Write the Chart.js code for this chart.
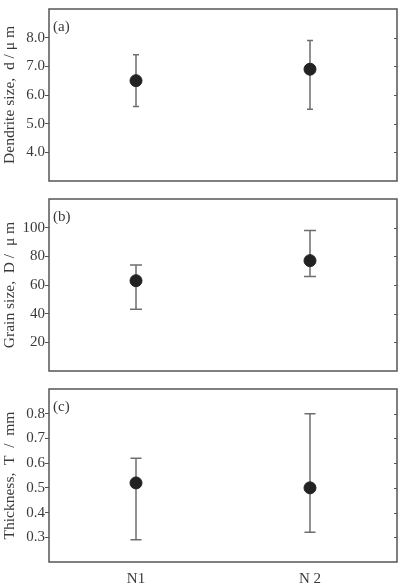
<!DOCTYPE html>
<html>
<head>
<meta charset="utf-8">
<script src="https://cdn.jsdelivr.net/npm/chart.js@4.4.0/dist/chart.umd.min.js"></script>
<style>
  html,body{margin:0;padding:0;background:#fff;}
  #wrap{position:relative;width:411px;height:587px;}
  .pane{position:absolute;left:0;width:411px;}
</style>
</head>
<body>
<div id="wrap">
  <div class="pane" style="top:0;height:190px"><canvas id="cA"></canvas></div>
  <div class="pane" style="top:190px;height:190px"><canvas id="cB"></canvas></div>
  <div class="pane" style="top:380px;height:207px"><canvas id="cC"></canvas></div>
</div>
<script>
// samples on the x axis
const categories = ['N1', 'N 2'];

// (a) dendrite size, um
const dendriteSize = [6.5, 6.9];
const dendriteLow  = [5.6, 5.5];
const dendriteHigh = [7.4, 7.9];
const dendriteTicks = [4, 5, 6, 7, 8];

// (b) grain size, um
const grainSize = [63, 77];
const grainLow  = [43, 66];
const grainHigh = [74, 98];
const grainTicks = [20, 40, 60, 80, 100];

// (c) thickness, mm
const thickness = [0.52, 0.50];
const thickLow  = [0.29, 0.32];
const thickHigh = [0.62, 0.80];
const thickTicks = [0.3, 0.4, 0.5, 0.6, 0.7, 0.8];

const SERIF = '"Liberation Serif", "DejaVu Serif", serif';
const TXT = '#3a3a3a';
const FRAME = '#555';

// box + inward right ticks + panel tag + error bars
const framePlugin = {
  id: 'frame',
  beforeDatasetsDraw(chart, args, o){
    const {ctx, scales:{x, y}} = chart;
    ctx.save();
    ctx.strokeStyle = '#6e6e6e';
    ctx.lineWidth = 1.5;
    o.low.forEach((lo, i) => {
      const px = x.getPixelForValue(i);
      const y1 = y.getPixelForValue(lo), y2 = y.getPixelForValue(o.high[i]);
      ctx.beginPath();
      ctx.moveTo(px, y1); ctx.lineTo(px, y2);
      ctx.moveTo(px - o.cap, y1); ctx.lineTo(px + o.cap, y1);
      ctx.moveTo(px - o.cap, y2); ctx.lineTo(px + o.cap, y2);
      ctx.stroke();
    });
    ctx.restore();
  },
  afterDraw(chart, args, o){
    const {ctx, chartArea:a, scales:{y}} = chart;
    ctx.save();
    ctx.strokeStyle = FRAME;
    ctx.lineWidth = 1.5;
    ctx.strokeRect(a.left, a.top, a.right - a.left, a.bottom - a.top);
    ctx.lineWidth = 1;
    y.ticks.forEach(t => {
      const py = Math.round(y.getPixelForValue(t.value)) + 0.5;
      ctx.beginPath(); ctx.moveTo(a.right - 3, py); ctx.lineTo(a.right, py); ctx.stroke();
    });
    ctx.fillStyle = TXT;
    ctx.font = '15px ' + SERIF;
    ctx.textBaseline = 'middle';
    ctx.fillText(o.tag, a.left + 4, a.top + 18);
    ctx.restore();
  }
};

function makePanel(id, vals, low, high, ticks, min, max, title, tag, cap, digits, showX){
  new Chart(document.getElementById(id), {
    type: 'line',
    data: { labels: categories, datasets: [{
      data: vals, showLine: false,
      pointRadius: 6, pointHoverRadius: 6,
      pointBackgroundColor: '#222', pointBorderColor: '#222'
    }]},
    options: {
      responsive: true, maintainAspectRatio: false, animation: false,
      layout: { padding: { top: 8, right: 14, bottom: showX ? 0 : 8, left: 0 } },
      plugins: { legend:{display:false}, tooltip:{enabled:false},
        frame: { low, high, tag, cap } },
      scales: {
        x: {
          type: 'category', offset: true, display: showX,
          grid: { display: false }, border: { display: false },
          ticks: { color: TXT, font: { family: SERIF, size: 15 }, padding: 0 },
          afterFit: s => { s.height = showX ? 25 : 0; }
        },
        y: {
          min, max,
          afterBuildTicks: s => { s.ticks = ticks.map(v => ({ value: v })); },
          afterFit: s => { s.width = 49; },
          grid: { drawOnChartArea: false, drawTicks: true, tickLength: 4, color: FRAME },
          border: { display: false },
          ticks: { color: TXT, padding: 0, font: { family: SERIF, size: 15 },
            callback: v => digits ? Number(v).toFixed(digits) : v },
          title: { display: true, text: title, color: TXT,
            font: { family: SERIF, size: 15.5 }, padding: { top: 1, bottom: 0 } }
        }
      }
    },
    plugins: [framePlugin]
  });
}

makePanel('cA', dendriteSize, dendriteLow, dendriteHigh, dendriteTicks, 3, 9,
  'Dendrite size,  d / \u03bc m', '(a)', 3, 1, false);
makePanel('cB', grainSize, grainLow, grainHigh, grainTicks, 0, 120,
  'Grain size,  D /  \u03bc m', '(b)', 6, 0, false);
makePanel('cC', thickness, thickLow, thickHigh, thickTicks, 0.2, 0.9,
  'Thickness,  T  /  mm', '(c)', 5.5, 1, true);
</script>
</body>
</html>
